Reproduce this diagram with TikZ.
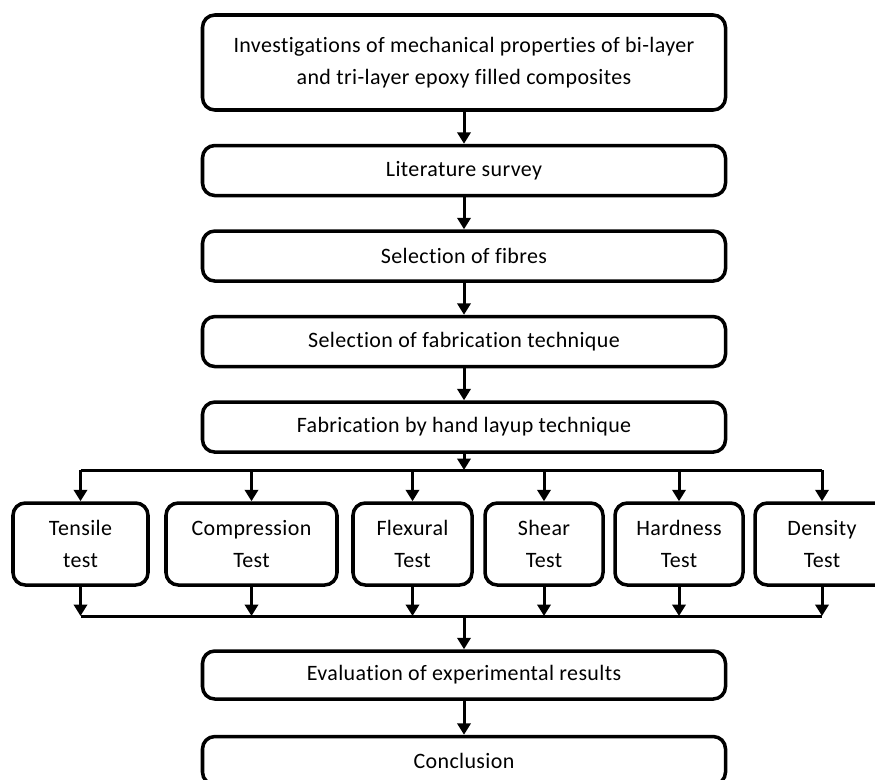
\documentclass[tikz,border=0pt]{standalone}
\usepackage{fontspec}
\setmainfont{Carlito}[Ligatures=NoCommon, LetterSpace=1.7]
\usepackage{tikz}
\usetikzlibrary{arrows.meta, positioning}

\begin{document}
\begin{tikzpicture}[auto, node distance = 0.64cm,
        box/.style = {draw, line width=2pt, rounded corners=7pt, align=center,
            minimum width=10.46cm, minimum height=1cm, inner sep=2pt,
            font=\fontsize{12.5}{18.5}\selectfont},
        testbox/.style = {box, minimum height=1.64cm},
        flow/.style = {line width=1.7pt, -{Triangle[length=6.5pt, width=7.5pt]}},
        bus/.style = {line width=1.7pt}]
            \clip (0,0) rectangle (17.5,-15.58);
            \node (inv) [box, minimum height=1.9cm] at (9.28,-1.25)
                {Investigations of mechanical properties of bi-layer\\and tri-layer epoxy filled composites};
            \node (lit) [box, below= of inv] {Literature survey};
            \node (fib) [box, below= of lit] {Selection of fibres};
            \node (tech) [box, below= of fib] {Selection of fabrication technique};
            \node (hand) [box, below= of tech] {Fabrication by hand layup technique};

            \coordinate (busa) at (9.28,-9.4);
            \coordinate (busb) at (9.28,-12.32);

            \node (tens) [testbox, minimum width=2.7cm] at (1.61,-10.88) {Tensile\\test};
            \node (comp) [testbox, minimum width=3.42cm] at (5.03,-10.88) {Compression\\Test};
            \node (flex) [testbox, minimum width=2.38cm] at (8.25,-10.88) {Flexural\\Test};
            \node (shear) [testbox, minimum width=2.36cm] at (10.88,-10.88) {Shear\\Test};
            \node (hard) [testbox, minimum width=2.56cm] at (13.58,-10.88) {Hardness\\Test};
            \node (dens) [testbox, minimum width=2.68cm] at (16.44,-10.88) {Density\\Test};

            \node (eval) [box, minimum height=0.96cm] at (9.28,-13.5) {Evaluation of experimental results};
            \node (conc) [box, minimum height=0.96cm, below= 0.68cm of eval] {Conclusion};

            \path[flow]
            (inv) edge (lit)
            (lit) edge (fib)
            (fib) edge (tech)
            (tech) edge (hand)
            (hand) edge (busa)
            (busb) edge (eval)
            (eval) edge (conc);

            \draw[bus] (tens.north |- busa) -- (dens.north |- busa);
            \draw[bus] (tens.south |- busb) -- (dens.south |- busb);

            \foreach \t in {tens, comp, flex, shear, hard, dens} {
                \draw[flow] (\t.north |- busa) -- (\t.north);
                \draw[flow] (\t.south) -- (\t.south |- busb);
            }
        \end{tikzpicture}
\end{document}
